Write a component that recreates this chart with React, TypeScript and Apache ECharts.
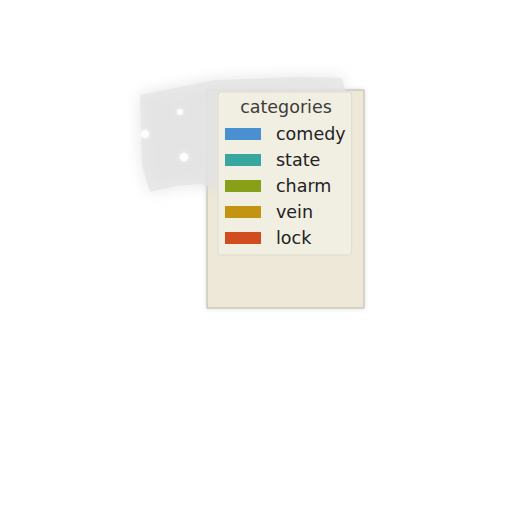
import React, { useEffect, useRef } from "react";
import * as echarts from "echarts";

const legendTitle = "categories";
const categories = ["comedy", "state", "charm", "vein", "lock"];
const colors = ["#4a90d0", "#3aa6a0", "#88a018", "#c39312", "#d14c1e"];
const seriesValues: number[][] = [[], [], [], [], []];

export default function App() {
  const ref = useRef<HTMLDivElement>(null);
  useEffect(() => {
    if (!ref.current) return;
    const chart = echarts.init(ref.current, undefined, { renderer: "svg" });
    chart.setOption({
      animation: false,
      backgroundColor: "#ffffff",
      textStyle: { fontFamily: "DejaVu Sans" },
      grid: {
        left: 199,
        top: 82,
        width: 157,
        height: 218,
        show: true,
        backgroundColor: "#ede8d7",
        borderColor: "#b8b8a8",
        borderWidth: 1,
        shadowColor: "rgba(0,0,0,0.15)",
        shadowBlur: 4,
      },
      xAxis: { type: "category", data: [], show: false },
      yAxis: { type: "value", show: false },
      graphic: [
        {
          type: "polygon",
          z: 0,
          shape: {
            points: [
              [132, 87], [167, 80], [207, 72], [292, 69], [334, 70], [338, 84],
              [222, 90], [214, 182], [192, 176], [167, 178], [142, 184], [134, 157],
            ],
          },
          style: { fill: "#e4e4e4", opacity: 0.75, shadowBlur: 16, shadowColor: "#dcdcdc" },
        },
        { type: "circle", z: 1, shape: { cx: 172, cy: 104, r: 3 }, style: { fill: "#ffffff", opacity: 0.9, shadowBlur: 4, shadowColor: "#ffffff" } },
        { type: "circle", z: 1, shape: { cx: 176, cy: 149, r: 4 }, style: { fill: "#ffffff", opacity: 0.9, shadowBlur: 4, shadowColor: "#ffffff" } },
        { type: "circle", z: 1, shape: { cx: 137, cy: 126, r: 4 }, style: { fill: "#ffffff", opacity: 0.9, shadowBlur: 4, shadowColor: "#ffffff" } },
      ],
      title: {
        text: legendTitle,
        left: 273,
        top: 85,
        textAlign: "center",
        z: 20,
        textStyle: { fontSize: 17.5, fontWeight: "normal", color: "#3c3c3c", fontFamily: "DejaVu Sans" },
      },
      legend: {
        orient: "vertical",
        left: 210,
        top: 84,
        padding: [33, 6, 8, 7],
        backgroundColor: "#f1eee2",
        borderColor: "#dddccf",
        borderWidth: 1,
        borderRadius: 3,
        itemWidth: 36,
        itemHeight: 12,
        itemGap: 8,
        icon: "rect",
        z: 10,
        textStyle: {
          fontSize: 17.5,
          lineHeight: 16,
          color: "#222222",
          fontFamily: "DejaVu Sans",
          padding: [0, 0, 0, 10],
        },
        data: categories,
      },
      series: categories.map((name, i) => ({
        name,
        type: "bar",
        data: seriesValues[i],
        itemStyle: { color: colors[i] },
      })),
    });
    return () => chart.dispose();
  }, []);
  return <div ref={ref} style={{ width: 496, height: 496 }} />;
}
